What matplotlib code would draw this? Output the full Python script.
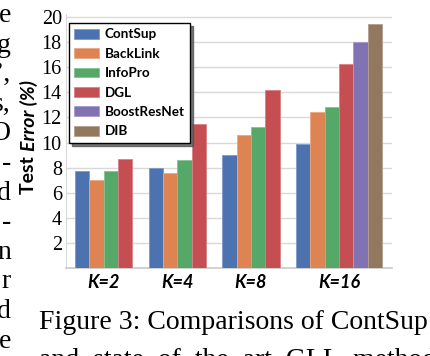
import matplotlib
matplotlib.use("Agg")
import matplotlib.pyplot as plt
import numpy as np

# test error (%) per method, one value per K (nan = not reported)
groups = ["K=2", "K=4", "K=8", "K=16"]
methods = ["ContSup", "BackLink", "InfoPro", "DGL", "BoostResNet", "DIB"]
contsup = [7.75, 8.0, 9.0, 9.85]
backlink = [7.0, 7.6, 10.6, 12.4]
infopro = [7.75, 8.6, 11.2, 12.8]
dgl = [8.7, 11.5, 14.2, 16.25]
boostresnet = [np.nan, np.nan, np.nan, 18.0]
dib = [np.nan, np.nan, np.nan, 19.45]
yticks = [2, 4, 6, 8, 10, 12, 14, 16, 18, 20]

# right-hand ends of the neighbouring text column and the caption
side_text = ["e", "g", "\u2019,", "s,", "O", "-", "d", "-", "n", "r", "d", "e"]
caption = ["Figure 3: Comparisons of ContSup",
           "and  state  of  the  art  GLL  methods"]

colors = ["#4C72B0", "#DD8452", "#55A868", "#C44E52", "#8172B3", "#937860"]
edges = ["#7d9acb", "#eaa882", "#84c293", "#d98185", "#a69bcb", "#b39f8c"]
series = [contsup, backlink, infopro, dgl, boostresnet, dib]

W, H = 430, 356
fig = plt.figure(figsize=(W / 100, H / 100), dpi=100)
ax = fig.add_axes([66 / W, (H - 268) / H, 326 / W, 253.5 / H])

sans = ["Lato", "DejaVu Sans"]
serif = ["Liberation Serif", "DejaVu Serif"]

gap = 1.15
start = 0.0
centers = []
for g in range(len(groups)):
    present = [i for i in range(len(methods)) if not np.isnan(series[i][g])]
    for j, i in enumerate(present):
        ax.bar(start + j, series[i][g], width=1, align="edge", color=colors[i],
               edgecolor=edges[i], linewidth=0.6, zorder=3,
               label=methods[i] if g == len(groups) - 1 else None)
    centers.append(start + len(present) / 2)
    start += len(present) + gap

ax.set_xlim(-0.63, start - gap + 0.7)
ax.set_ylim(0, 20.2)
ax.set_yticks(yticks)
ax.set_yticklabels([str(t) for t in yticks], family=serif, fontsize=14.5)
ax.set_xticks(centers)
ax.set_xticklabels(groups, family=sans, fontsize=13, fontweight="bold", style="italic")
ax.tick_params(axis="both", length=0)
ax.tick_params(axis="y", pad=3)
ax.tick_params(axis="x", pad=4)
ax.grid(axis="y", color="#d9d9d9", linewidth=1, zorder=0)
for s in ["top", "right"]:
    ax.spines[s].set_visible(False)
ax.spines["left"].set_color("#d9d9d9")
ax.spines["bottom"].set_color("#c8c8c8")
ax.spines["bottom"].set_linewidth(1.2)

# y axis title: "Test" upright, "Error (%)" italic, laid end to end
label_fs = 14
t1 = fig.text(28.5 / W, 1 - 194 / H, "Test ", rotation=90, ha="center", va="bottom",
              family=sans, fontsize=label_fs, fontweight="bold")
renderer = fig.canvas.get_renderer()
h1 = t1.get_window_extent(renderer).height
fig.text(28.5 / W, 1 - (194 - h1) / H, "Error (%)", rotation=90, ha="center",
         va="bottom", family=sans, fontsize=label_fs, fontweight="bold", style="italic")

leg = ax.legend(loc="upper left", bbox_to_anchor=(69 / W, 1 - 23 / H),
                bbox_transform=fig.transFigure, borderaxespad=0,
                prop={"family": sans, "size": 9.7, "weight": "bold"},
                handlelength=1.85, handleheight=0.75, handletextpad=0.4,
                labelspacing=0.55, borderpad=0.4, fancybox=False,
                shadow={"color": "#555555", "alpha": 0.8}, framealpha=1)
leg.get_frame().set_edgecolor("black")
leg.get_frame().set_linewidth(1.0)
leg.set_zorder(5)

for k, t in enumerate(side_text):
    fig.text(11 / W, 1 - (22 + 29.6 * k) / H, t, ha="right", va="baseline",
             family=serif, fontsize=20)
for k, t in enumerate(caption):
    fig.text(39 / W, 1 - (329 + 38 * k) / H, t, ha="left", va="baseline",
             family=serif, fontsize=20)

fig.savefig("out.png", dpi=100)
